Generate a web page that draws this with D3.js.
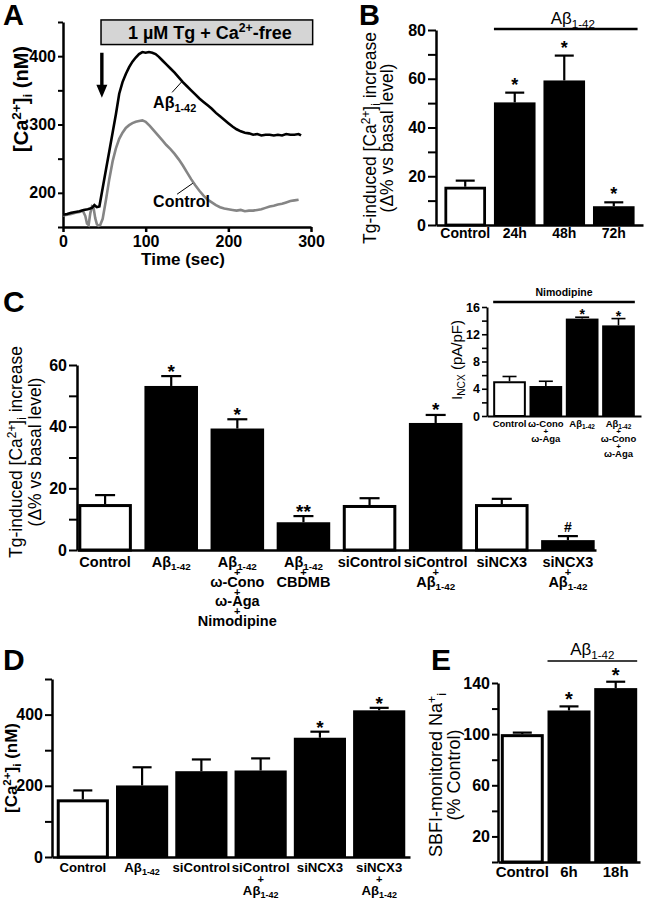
<!DOCTYPE html>
<html><head><meta charset="utf-8">
<script src="https://cdn.jsdelivr.net/npm/d3@7"></script>
<style>body{margin:0;background:#fff} svg{display:block} text{font-family:"Liberation Sans",Arial,Helvetica,sans-serif}</style>
</head><body><svg id="fig" width="646" height="900"></svg>
<script>
// ---------------- DATA ----------------
// Panel A: time course (sec, nM)
const timeAbeta = [0,5,10,15,20,25,30,35,38,41,44,48,52,56,60,64,68,72,76,80,84,88,92,96,100,104,108,112,116,120,125,130,135,140,145,150,155,160,165,170,175,180,185,190,195,200,205,210,215,220,225,230,235,240,245,250,255,260,265,270,275,280,285,288];
const caAbeta = [168,169,171,172,173,175,176,178,182,179,180,207,234,261,288,315,345,362,374,384,392,398,403,406,405,406,405,403,399,394,388,382,376,369,362,356,350,344,338,333,328,323,317,312,307,302,297,293,290,288,287,285,286,284,285,285,284,285,284,286,285,285,286,284];
const timeControl = [0,5,10,15,20,24,27,29,31,33,35,37,39,41,43,45,48,52,56,60,64,68,72,76,80,84,88,92,96,100,105,110,115,120,125,130,135,140,145,150,155,160,165,170,175,180,185,190,195,200,205,210,215,220,225,230,235,240,245,250,255,260,265,270,275,280,285];
const caControl = [167,168,169,171,172,174,166,155,153,170,180,178,163,154,152,153,162,190,220,246,265,279,288,295,299,302,304,305,306,304,298,291,284,277,270,264,257,249,240,230,220,211,203,196,190,186,182,179,177,176,175,174,175,173,174,174,175,176,178,180,181,183,184,186,188,189,190];
const ticksAx = [0,100,200,300];
const ticksAy = [150,200,250,300,350,400,450];
const labelsAy = [200,300,400];

// Panel B
const catsB = ["Control","24h","48h","72h"];
const groupB = ["control","abeta","abeta","abeta"];
const valsB = [15.7,50.3,59.3,7.7];
const errB = [2.5,4.0,10.2,1.6];
const sigB = ["","*","*","*"];
const ticksBy = [0,10,20,30,40,50,60,70,80];
const labelsBy = [0,20,40,60,80];

// Panel C
const catsC = ["Control","Abeta","Abeta+Cono+Aga+Nimo","Abeta+CBDMB","siControl","siControl+Abeta","siNCX3","siNCX3+Abeta"];
const labelsC = [["Control"],["Aβ_{1-42}"],["Aβ_{1-42}","+","ω-Cono","+","ω-Aga","+","Nimodipine"],["Aβ_{1-42}","+","CBDMB"],["siControl"],["siControl","+","Aβ_{1-42}"],["siNCX3"],["siNCX3","+","Aβ_{1-42}"]];
const groupC = ["control","treated","treated","treated","control","treated","control","treated"];
const valsC = [14.9,53.2,39.4,9.0,14.6,41.2,14.9,3.2];
const errC = [2.9,3.2,3.0,2.0,2.2,2.6,1.7,1.3];
const sigC = ["","*","*","**","","*","","#"];
const ticksCy = [0,10,20,30,40,50,60];
const labelsCy = [0,20,40,60];

// Panel C inset
const catsI = ["Control","Cono+Aga","Abeta","Abeta+Cono+Aga"];
const labelsI = [["Control"],["ω-Cono","+","ω-Aga"],["Aβ_{1-42}"],["Aβ_{1-42}","+","ω-Cono","+","ω-Aga"]];
const groupI = ["control","treated","treated","treated"];
const valsI = [5.1,4.4,14.3,13.3];
const errI = [0.7,0.7,0.2,1.0];
const sigI = ["","","*","*"];
const ticksIy = [0,2,4,6,8,10,12,14,16];
const labelsIy = [0,4,8,12,16];

// Panel D
const catsD = ["Control","Abeta","siControl","siControl+Abeta","siNCX3","siNCX3+Abeta"];
const labelsD = [["Control"],["Aβ_{1-42}"],["siControl"],["siControl","+","Aβ_{1-42}"],["siNCX3"],["siNCX3","+","Aβ_{1-42}"]];
const groupD = ["control","treated","treated","treated","treated","treated"];
const valsD = [162,201,241,243,335,412];
const errD = [25,51,33,34,17,7];
const sigD = ["","","","","*","*"];
const ticksDy = [0,100,200,300,400,500];
const labelsDy = [0,200,400];

// Panel E
const catsE = ["Control","6h","18h"];
const groupE = ["control","abeta","abeta"];
const valsE = [100,118.5,136];
const errE = [1.2,3.2,5.0];
const sigE = ["","*","*"];
const ticksEy = [0,20,40,60,80,100,120,140];
const labelsEy = [20,60,100,140];

// ---------------- HELPERS ----------------
const svg = d3.select("#fig");
const FONT = '"Liberation Sans",Arial,sans-serif';

function rich(t, str, fs) {
  const parts = str.split(/(\^\{[^}]*\}|_\{[^}]*\})/).filter(s => s.length);
  let shift = 0;
  parts.forEach(p => {
    let target = 0, size = fs, content = p;
    if (p.startsWith("^{")) { target = -0.36 * fs; size = fs * 0.68; content = p.slice(2, -1); }
    else if (p.startsWith("_{")) { target = 0.22 * fs; size = fs * 0.68; content = p.slice(2, -1); }
    t.append("tspan").attr("dy", target - shift).attr("font-size", size).text(content);
    shift = target;
  });
  return t;
}

function label(g, x, y, str, fs, opts = {}) {
  const t = g.append("text").attr("x", x).attr("y", y)
    .attr("font-size", fs).attr("font-weight", opts.weight || "bold")
    .attr("text-anchor", opts.anchor || "middle").attr("fill", "#000");
  if (opts.rotate) t.attr("transform", `rotate(-90,${x},${y})`);
  return rich(t, str, fs);
}

function yAxis(g, y, x0, ticks, labeled, fs, tickLen, sw) {
  const ax = d3.axisLeft(y).tickValues(ticks).tickSize(tickLen).tickSizeOuter(0).tickPadding(2)
    .tickFormat(d => labeled.includes(d) ? d : "");
  const a = g.append("g").attr("transform", `translate(${x0},0)`).call(ax);
  a.select(".domain").attr("stroke-width", sw).attr("stroke", "#000");
  a.selectAll(".tick line").attr("stroke-width", sw * 0.8).attr("stroke", "#000");
  a.selectAll("text").attr("font-size", fs).attr("font-weight", "bold").attr("fill", "#000").attr("font-family", FONT);
  return a;
}

function xAxisLine(g, x, y0, sw) {
  const a = g.append("g").attr("transform", `translate(0,${y0})`)
    .call(d3.axisBottom(x).tickSize(0).tickSizeOuter(0).tickFormat(""));
  a.select(".domain").attr("stroke-width", sw).attr("stroke", "#000");
  return a;
}

function bars(g, x, y, cats, vals, errs, groups, sigs, o) {
  const bw = x.bandwidth();
  cats.forEach((c, i) => {
    const x0 = x(c), top = y(vals[i]), etop = y(vals[i] + errs[i]);
    const cx = x0 + bw / 2;
    g.append("line").attr("x1", cx).attr("x2", cx).attr("y1", top).attr("y2", etop)
      .attr("stroke", "#000").attr("stroke-width", o.ew);
    g.append("line").attr("x1", cx - o.cap / 2).attr("x2", cx + o.cap / 2).attr("y1", etop).attr("y2", etop)
      .attr("stroke", "#000").attr("stroke-width", o.ew);
    const sw = o.sw;
    if (groups[i] === "control") {
      g.append("rect").attr("x", x0 + sw / 2).attr("y", top + sw / 2)
        .attr("width", bw - sw).attr("height", y(0) - top - sw / 2)
        .attr("fill", "#fff").attr("stroke", "#000").attr("stroke-width", sw);
    } else {
      g.append("rect").attr("x", x0).attr("y", top).attr("width", bw).attr("height", y(0) - top).attr("fill", "#000");
    }
    if (sigs[i]) {
      const isHash = sigs[i] === "#";
      g.append("text").attr("x", cx).attr("y", etop + (isHash ? o.hashOff : o.starOff))
        .attr("text-anchor", "middle").attr("font-weight", "bold")
        .attr("font-size", isHash ? o.hashFs : o.starFs).text(sigs[i]);
    }
  });
}

function xLabels(g, x, labels, y0, fs, gap, plusFs, plusOff) {
  const cats = x.domain();
  labels.forEach((lines, i) => {
    const cx = x(cats[i]) + x.bandwidth() / 2;
    let k = 0;
    lines.forEach(line => {
      if (line === "+") {
        g.append("text").attr("x", cx).attr("y", y0 + (k - 1) * gap + plusOff)
          .attr("text-anchor", "middle").attr("font-size", plusFs).attr("font-weight", "bold").text("+");
      } else {
        label(g, cx, y0 + k * gap, line, fs);
        k++;
      }
    });
  });
}

// ---------------- PANEL A ----------------
{
  const g = svg.append("g");
  const x = d3.scaleLinear([0, 300], [63, 311]);
  const y = d3.scaleLinear([150, 450], [227, 22]);
  yAxis(g, y, 63, ticksAy, labelsAy, 16, 5, 2.5);
  const ax = d3.axisBottom(x).tickValues(ticksAx).tickSize(5).tickSizeOuter(0).tickPadding(4);
  const xa = g.append("g").attr("transform", "translate(0,227)").call(ax);
  xa.select(".domain").attr("stroke-width", 2.5);
  xa.selectAll(".tick line").attr("stroke-width", 2.5);
  xa.selectAll("text").attr("font-size", 16).attr("font-weight", "bold").attr("fill", "#000").attr("font-family", FONT);
  label(g, 183, 265, "Time (sec)", 17);
  label(g, 28, 99, "[Ca^{2+}]_{i} (nM)", 20, { rotate: true });

  const line = d3.line().x(d => x(d[0])).y(d => y(d[1]));
  g.append("path").datum(timeControl.map((t, i) => [t, caControl[i]]))
    .attr("d", line).attr("fill", "none").attr("stroke", "#858585").attr("stroke-width", 2.6);
  g.append("path").datum(timeAbeta.map((t, i) => [t, caAbeta[i]]))
    .attr("d", line).attr("fill", "none").attr("stroke", "#000").attr("stroke-width", 2.6);

  g.append("rect").attr("x", x(46)).attr("y", y(453)).attr("width", x(302) - x(46)).attr("height", y(417) - y(453))
    .attr("fill", "#d5d5d5").attr("stroke", "#000").attr("stroke-width", 1.5);
  label(g, (x(46) + x(302)) / 2 + 3, 38.5, "1 µM Tg + Ca^{2+}-free", 18);
  const ax0 = x(47), ay0 = y(405), ay1 = y(339);
  g.append("path").attr("d", `M${ax0 - 1.7},${ay0} L${ax0 + 1.7},${ay0} L${ax0 + 1.7},${ay1 - 13} L${ax0 + 5.5},${ay1 - 13} L${ax0},${ay1} L${ax0 - 5.5},${ay1 - 13} L${ax0 - 1.7},${ay1 - 13} Z`)
    .attr("fill", "#000");
  g.append("line").attr("x1", x(132)).attr("y1", y(347)).attr("x2", x(144)).attr("y2", y(363)).attr("stroke", "#000").attr("stroke-width", 1);
  label(g, x(109), y(324), "Aβ_{1-42}", 16, { anchor: "start" });
  g.append("line").attr("x1", x(138)).attr("y1", y(198)).attr("x2", x(157)).attr("y2", y(214)).attr("stroke", "#000").attr("stroke-width", 1);
  label(g, x(109), y(179), "Control", 16, { anchor: "start" });
  label(g, 3, 25, "A", 29, { anchor: "start" });
}

// ---------------- PANEL B ----------------
{
  const g = svg.append("g");
  const x = d3.scaleBand(catsB, [436, 643]).paddingInner(0.16).paddingOuter(0.17);
  const y = d3.scaleLinear([0, 80], [225, 30]);
  bars(g, x, y, catsB, valsB, errB, groupB, sigB, { sw: 2.8, ew: 2.2, cap: 19, starOff: -2, starFs: 18, hashOff: -3, hashFs: 13 });
  xAxisLine(g, x, 225, 2.5);
  yAxis(g, y, 436, ticksBy, labelsBy, 16, 8, 2.5);
  catsB.forEach(c => label(g, x(c) + x.bandwidth() / 2, 238, c, 14));
  const lx0 = x("24h"), lx1 = x("72h") + x.bandwidth() + 3;
  g.append("line").attr("x1", lx0).attr("x2", lx1).attr("y1", 29).attr("y2", 29).attr("stroke", "#000").attr("stroke-width", 2.5);
  label(g, (lx0 + lx1) / 2 + 7, 24, "Aβ_{1-42}", 17, { weight: "normal" });
  label(g, 376, 138, "Tg-induced [Ca^{2+}]_{i} increase", 17.5, { rotate: true, weight: "normal" });
  label(g, 392.5, 138, "(Δ% vs basal level)", 17.5, { rotate: true, weight: "normal" });
  label(g, 359, 25, "B", 29, { anchor: "start" });
}

// ---------------- PANEL C ----------------
{
  const g = svg.append("g");
  const x = d3.scaleBand(catsC, [77, 596]).paddingInner(0.19).paddingOuter(0.02);
  const y = d3.scaleLinear([0, 60], [550, 365]);
  bars(g, x, y, catsC, valsC, errC, groupC, sigC, { sw: 3, ew: 2.2, cap: 20, starOff: 1.5, starFs: 19, hashOff: -4, hashFs: 14 });
  xAxisLine(g, x, 550, 2.5);
  yAxis(g, y, 77, ticksCy, labelsCy, 16, 8, 2.5);
  xLabels(g, x, labelsC, 567, 14.5, 19.5, 11, 9);
  label(g, 22, 452, "Tg-induced [Ca^{2+}]_{i} increase", 17.5, { rotate: true, weight: "normal" });
  label(g, 41, 452, "(Δ% vs basal level)", 17.5, { rotate: true, weight: "normal" });
  label(g, 3, 312, "C", 30, { anchor: "start" });
}

// ---------------- PANEL C INSET ----------------
{
  const g = svg.append("g");
  const x = d3.scaleBand(catsI, [487, 641]).paddingInner(0.1).paddingOuter(0.17);
  const y = d3.scaleLinear([0, 16], [416, 307]);
  bars(g, x, y, catsI, valsI, errI, groupI, sigI, { sw: 2, ew: 1.6, cap: 14, starOff: 2, starFs: 14, hashOff: -3, hashFs: 10 });
  xAxisLine(g, x, 416, 2);
  yAxis(g, y, 487, ticksIy, labelsIy, 12.5, 5, 2);
  xLabels(g, x, labelsI, 427, 9.5, 15, 8, 6.5);
  const lx0 = x(catsI[0]), lx1 = x(catsI[3]) + x.bandwidth();
  g.append("line").attr("x1", lx0).attr("x2", lx1).attr("y1", 302).attr("y2", 302).attr("stroke", "#000").attr("stroke-width", 2.5);
  label(g, (lx0 + lx1) / 2, 296, "Nimodipine", 10.5);
  label(g, 462, 360, "I_{NCX} (pA/pF)", 15, { rotate: true, weight: "normal" });
}

// ---------------- PANEL D ----------------
{
  const g = svg.append("g");
  const x = d3.scaleBand(catsD, [52, 410]).paddingInner(0.12).paddingOuter(0.08);
  const y = d3.scaleLinear([0, 500], [857, 679]);
  bars(g, x, y, catsD, valsD, errD, groupD, sigD, { sw: 3, ew: 2.2, cap: 19, starOff: 2, starFs: 19, hashOff: -3, hashFs: 13 });
  xAxisLine(g, x, 857, 2.5);
  yAxis(g, y, 52, ticksDy, labelsDy, 16, 7, 2.5);
  xLabels(g, x, labelsD, 872, 13.2, 23, 11, 11);
  label(g, 17, 768, "[Ca^{2+}]_{i} (nM)", 17, { rotate: true });
  label(g, 3, 670, "D", 30, { anchor: "start" });
}

// ---------------- PANEL E ----------------
{
  const g = svg.append("g");
  const x = d3.scaleBand(catsE, [498, 640]).paddingInner(0.08).paddingOuter(0.06);
  const y = d3.scaleLinear([0, 140], [862, 683]);
  bars(g, x, y, catsE, valsE, errE, groupE, sigE, { sw: 3, ew: 2.2, cap: 19, starOff: 0, starFs: 20, hashOff: -3, hashFs: 13 });
  xAxisLine(g, x, 862, 2.5);
  yAxis(g, y, 498, ticksEy, labelsEy, 16, 6, 2.5);
  catsE.forEach(c => label(g, x(c) + x.bandwidth() / 2, 877, c, 15));
  const lx0 = x("6h"), lx1 = x("18h") + x.bandwidth();
  g.append("line").attr("x1", lx0).attr("x2", lx1).attr("y1", 661).attr("y2", 661).attr("stroke", "#000").attr("stroke-width", 1.5);
  label(g, (lx0 + lx1) / 2, 655, "Aβ_{1-42}", 17, { weight: "normal" });
  label(g, 442, 775, "SBFI-monitored Na^{+}_{i}", 18, { rotate: true, weight: "normal" });
  label(g, 460, 775, "(% Control)", 18, { rotate: true, weight: "normal" });
  label(g, 431, 670, "E", 30, { anchor: "start" });
}
</script>
</body></html>
